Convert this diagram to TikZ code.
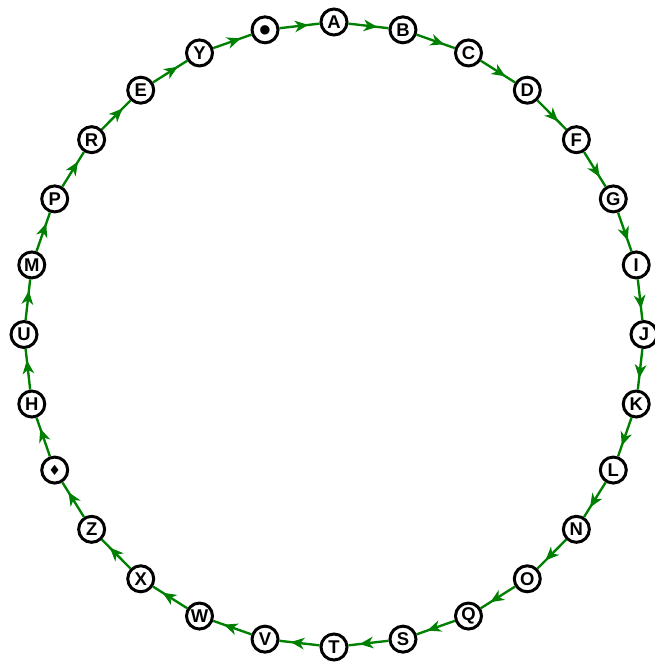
\documentclass[tikz,border=0pt]{standalone}
\usepackage{fontspec}
\setmainfont{Liberation Sans}
\newfontfamily\symfont{DejaVu Sans}
\usetikzlibrary{arrows.meta,decorations.markings}
\definecolor{linkgreen}{RGB}{0,128,0}

\begin{document}
\begin{tikzpicture}[x=0.02cm,y=0.02cm,
	station/.style={draw,circle,line width=1.7pt,fill=white,minimum size=0.52cm,inner sep=0pt,
		font=\bfseries\fontsize{10.5}{11}\selectfont},
	link/.style={draw=linkgreen,line width=1.35pt,postaction={decorate},
		decoration={markings,mark=at position 0.72 with {\arrow[linkgreen]{Stealth[length=0.27cm,width=0.23cm,inset=0.08cm]}}}},
]
\useasboundingbox (0,0) rectangle (654,662);

% stations round the ring, clockwise from the top
\foreach \name/\lab [count=\i from 0] in {dot/{\symfont\fontsize{7}{7}\selectfont ●},A/A,B/B,C/C,D/D,F/F,G/G,I/I,J/J,K/K,L/L,N/N,O/O,Q/Q,S/S,T/T,V/V,W/W,X/X,Z/Z,dia/{\symfont\fontsize{8}{8}\selectfont ♦},H/H,U/U,M/M,P/P,R/R,E/E,Y/Y}
	\node[station] (\name) at ({334+310*cos(90-(\i-1)*360/28)},{327.5+312.5*sin(90-(\i-1)*360/28)}) {\lab};

\foreach \a/\b in {dot/A,A/B,B/C,C/D,D/F,F/G,G/I,I/J,J/K,K/L,L/N,N/O,O/Q,Q/S,S/T,T/V,V/W,W/X,X/Z,Z/dia,dia/H,H/U,U/M,M/P,P/R,R/E,E/Y,Y/dot}
	\draw[link] (\a) -- (\b);

\end{tikzpicture}
\end{document}
